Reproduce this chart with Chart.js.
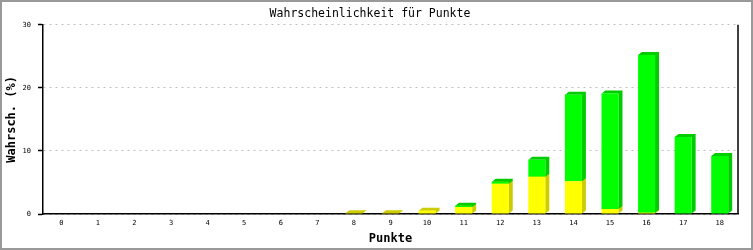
<!DOCTYPE html>
<html>
<head>
<meta charset="utf-8">
<script src="https://cdn.jsdelivr.net/npm/chart.js@4.4.1/dist/chart.umd.min.js"></script>
<style>
  html, body { margin: 0; padding: 0; background: #ffffff; }
  canvas { display: block; }
</style>
</head>
<body>
<canvas id="c" width="753" height="250"></canvas>
<script>
const categories = ['0','1','2','3','4','5','6','7','8','9','10','11','12','13','14','15','16','17','18'];
const yellowValues = [0,0,0,0,0,0,0,0,0.1,0.1,0.5,1.1,4.8,5.9,5.2,0.8,0.2,0,0];
const greenValues  = [0,0,0,0,0,0,0,0,0,0,0,0.2,0.3,2.7,13.7,18.3,25.0,12.2,9.2];
const yTicks = [0,10,20,30];
const titleText = 'Wahrscheinlichkeit für Punkte';
const xTitle = 'Punkte';
const yTitle = 'Wahrsch. (%)';

const MONO = '"DejaVu Sans Mono", "Liberation Mono", monospace';
const DX = 4, DY = 3;

const frameAndDepth = {
  id: 'frameAndDepth',
  beforeDraw(chart) {
    const ctx = chart.ctx;
    ctx.save();
    ctx.fillStyle = '#ffffff';
    ctx.fillRect(0, 0, chart.width, chart.height);
    ctx.restore();
  },
  beforeDatasetsDraw(chart) {
    const ctx = chart.ctx;
    const darks = ['#cccc00', '#00cc00'];
    chart.data.datasets.forEach((ds, di) => {
      const meta = chart.getDatasetMeta(di);
      meta.data.forEach((el, i) => {
        if (!ds.data[i]) return;
        const p = el.getProps(['x', 'y', 'base', 'width'], true);
        const l = p.x - p.width / 2, r = p.x + p.width / 2;
        const t = Math.min(p.y, p.base), b = Math.max(p.y, p.base);
        ctx.save();
        ctx.fillStyle = darks[di];
        ctx.beginPath();
        ctx.moveTo(r, b);
        ctx.lineTo(r + DX, b - DY);
        ctx.lineTo(r + DX, t - DY);
        ctx.lineTo(l + DX, t - DY);
        ctx.lineTo(l, t);
        ctx.lineTo(r, t);
        ctx.closePath();
        ctx.fill();
        ctx.restore();
      });
    });
  },
  afterDraw(chart) {
    const ctx = chart.ctx;
    const a = chart.chartArea;
    ctx.save();
    ctx.strokeStyle = '#000000';
    ctx.lineWidth = 1.5;
    ctx.beginPath();
    ctx.moveTo(a.right, a.top);
    ctx.lineTo(a.right, a.bottom);
    ctx.stroke();
    ctx.strokeStyle = '#999999';
    ctx.lineWidth = 2;
    ctx.strokeRect(1, 1, chart.width - 2, chart.height - 2);
    ctx.restore();
  }
};

const toBars = arr => arr.map(v => (v === 0 ? null : v));

new Chart(document.getElementById('c'), {
  type: 'bar',
  data: {
    labels: categories,
    datasets: [
      { data: toBars(yellowValues), backgroundColor: '#ffff00', borderWidth: 0, barThickness: 17, inflateAmount: 0 },
      { data: toBars(greenValues), backgroundColor: '#00ff00', borderWidth: 0, barThickness: 17, inflateAmount: 0 }
    ]
  },
  options: {
    responsive: false,
    animation: false,
    devicePixelRatio: 1,
    layout: { padding: { left: 2, right: 15, top: 0, bottom: 0 } },
    plugins: {
      legend: { display: false },
      tooltip: { enabled: false },
      title: {
        display: true,
        text: titleText,
        color: '#000000',
        font: { family: MONO, size: 11.5, weight: 'normal', lineHeight: 1.2 },
        padding: { top: 7, bottom: 4 }
      }
    },
    scales: {
      x: {
        stacked: true,
        offset: true,
        grid: { display: false, drawTicks: false },
        border: { display: true, color: '#000000', width: 1.5 },
        ticks: { color: '#000000', font: { family: MONO, size: 7 }, padding: 5, maxRotation: 0, autoSkip: false },
        title: { display: true, text: xTitle, color: '#000000', font: { family: MONO, size: 12, weight: 'bold', lineHeight: 1.2 }, padding: { top: 0, bottom: 4 } },
        afterFit(s) { s.height = 36; }
      },
      y: {
        stacked: true,
        min: 0,
        max: 30,
        afterBuildTicks(s) { s.ticks = yTicks.map(v => ({ value: v })); },
        grid: { color: '#c0c0c0', lineWidth: 1, drawTicks: true, tickLength: 5, tickColor: '#000000', tickWidth: 1.5 },
        border: { display: true, color: '#000000', width: 1.5, dash: [2, 4] },
        ticks: { color: '#000000', font: { family: MONO, size: 7 }, padding: 7 },
        title: { display: true, text: yTitle, color: '#000000', font: { family: MONO, size: 12, weight: 'bold', lineHeight: 1.2 }, padding: { top: 3, bottom: 0 } },
        afterFit(s) { s.width = 41; }
      }
    }
  },
  plugins: [frameAndDepth]
});
</script>
</body>
</html>
